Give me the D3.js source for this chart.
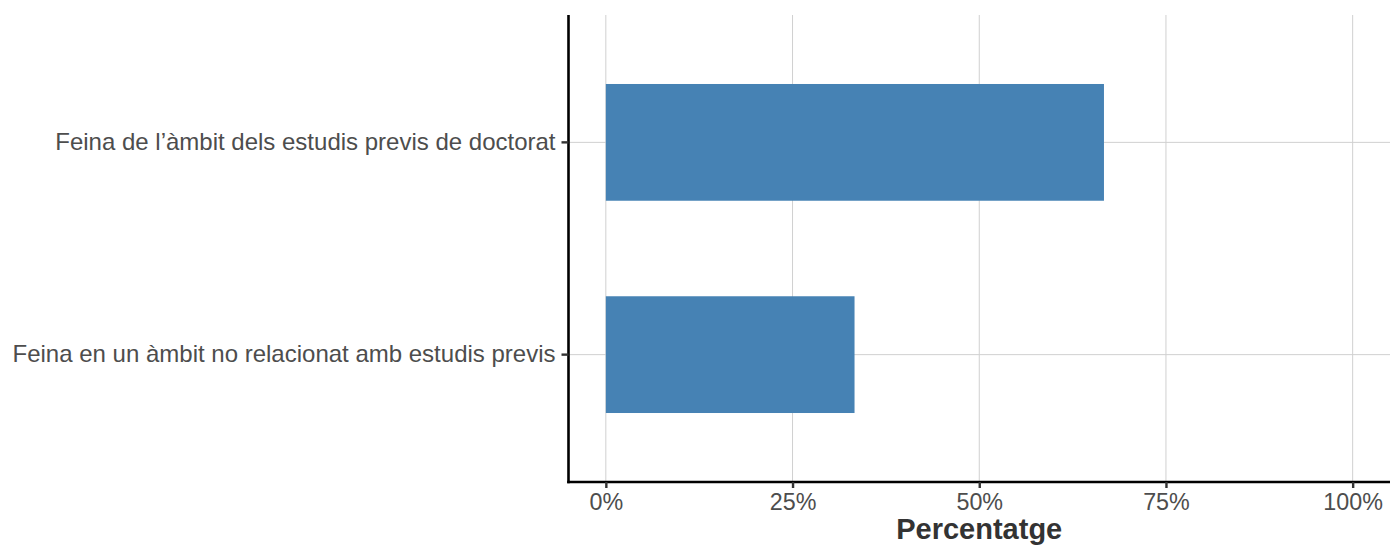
<!DOCTYPE html>
<html lang="ca">
  <head>
    <meta charset="UTF-8" />
    <title>Percentatge</title>
    <script src="https://cdnjs.cloudflare.com/ajax/libs/d3/7.8.5/d3.min.js"></script>
    <style>
      body { margin: 0; background: #fff; }
      svg text { font-family: "Liberation Sans", Arial, Helvetica, sans-serif; }
      .grid line { stroke: #d0d0d0; stroke-width: 1; }
    </style>
  </head>
  <body>
    <div id="chart"></div>
    <script>
      // categories and values (percent)
      const categories = [
        "Feina de l’àmbit dels estudis previs de doctorat",
        "Feina en un àmbit no relacionat amb estudis previs"
      ];
      const values = [66.7, 33.3];
      const xTicks = [0, 25, 50, 75, 100];
      const xTitle = "Percentatge";

      const data = categories.map((c, i) => ({ cat: c, value: values[i] }));

      const W = 1391, H = 548;
      const margin = { top: 15, right: 1, bottom: 66, left: 568.5 };
      const width = W - margin.left - margin.right;
      const height = H - margin.top - margin.bottom;
      const FONT = "Liberation Sans, Arial, sans-serif";

      const svg = d3.select("#chart").append("svg")
        .attr("width", W).attr("height", H)
        .append("g")
        .attr("transform", `translate(${margin.left},${margin.top})`);

      // ggplot-style 5% expansion
      const x = d3.scaleLinear().domain([-5, 105]).range([0, width]);
      const y = d3.scaleBand().domain(categories).range([0, height]).paddingInner(0.45).paddingOuter(0.45 / 2 + 0.1);

      // gridlines
      svg.append("g").attr("class", "grid")
        .selectAll("line.v").data(xTicks).enter().append("line")
        .attr("x1", d => x(d)).attr("x2", d => x(d))
        .attr("y1", 0).attr("y2", height);
      svg.append("g").attr("class", "grid")
        .selectAll("line.h").data(categories).enter().append("line")
        .attr("x1", 0).attr("x2", width)
        .attr("y1", d => y(d) + y.bandwidth() / 2)
        .attr("y2", d => y(d) + y.bandwidth() / 2);

      // bars
      svg.selectAll(".bar").data(data).enter().append("rect")
        .attr("class", "bar")
        .attr("x", x(0))
        .attr("y", d => y(d.cat))
        .attr("width", d => x(d.value) - x(0))
        .attr("height", y.bandwidth())
        .attr("fill", "#4682b4");

      // axes
      const xAxis = svg.append("g")
        .attr("transform", `translate(0,${height})`)
        .call(d3.axisBottom(x).tickValues(xTicks).tickFormat(d => d + "%").tickSize(6).tickPadding(3));
      const yAxis = svg.append("g")
        .call(d3.axisLeft(y).tickSize(7).tickPadding(6));

      [xAxis, yAxis].forEach(a => {
        a.attr("font-family", FONT);
        a.select(".domain").attr("stroke", "#000").attr("stroke-width", 2.6);
        a.selectAll(".tick line").attr("stroke", "#333").attr("stroke-width", 2.4);
        a.selectAll(".tick text").attr("fill", "#4d4d4d");
      });
      xAxis.attr("font-size", 23.3);
      yAxis.attr("font-size", 24);
      xAxis.selectAll(".tick text").attr("y", 28).attr("dy", 0);
      // extend domain lines to the corner
      xAxis.select(".domain").attr("d", `M-1.3,0H${width}`);
      yAxis.select(".domain").attr("d", `M0,0V${height + 1.3}`);

      svg.append("text")
        .attr("x", width / 2)
        .attr("y", height + 57)
        .attr("text-anchor", "middle")
        .attr("font-family", FONT)
        .attr("font-size", "29px")
        .attr("font-weight", "bold")
        .attr("fill", "#333")
        .text(xTitle);
    </script>
  </body>
</html>
